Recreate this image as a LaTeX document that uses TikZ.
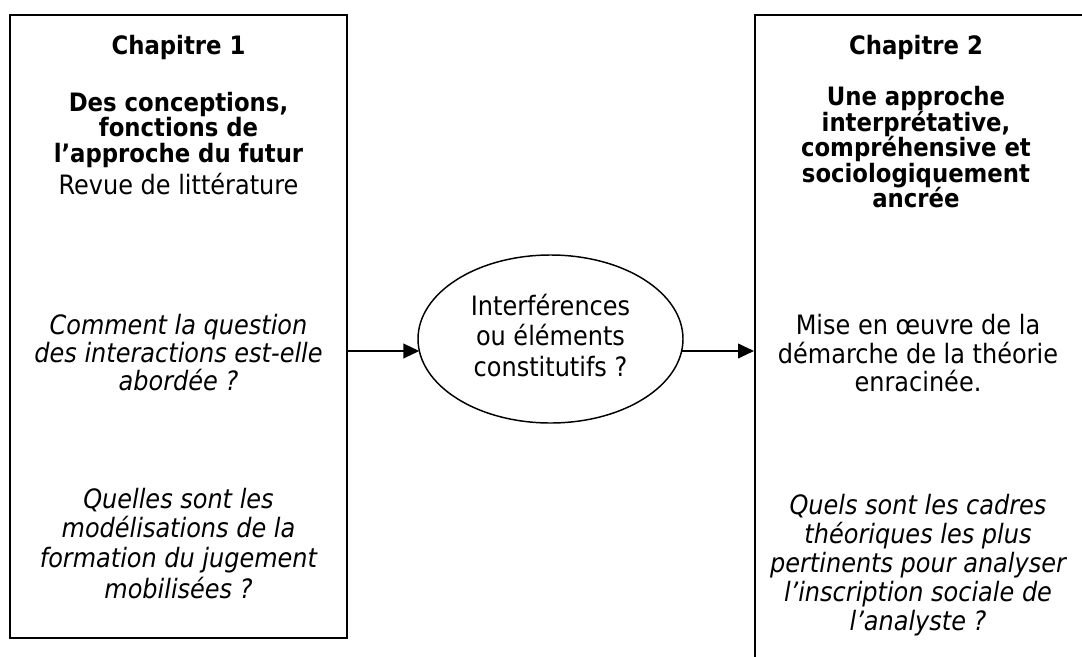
\documentclass[tikz,border=0pt]{standalone}
\usepackage{fontspec}
\setmainfont{DejaVu Sans Condensed}
\usetikzlibrary{arrows.meta,shapes.geometric,intersections}
\begin{document}
\begin{tikzpicture}[x=0.75pt,y=-0.75pt,
  chapbox/.style={draw,line width=1.5pt,rectangle,inner sep=0pt},
  bubble/.style={draw,line width=1.1pt,ellipse,inner sep=0pt,minimum width=265*0.75pt,minimum height=168*0.75pt},
  ln/.style={anchor=base,inner sep=0pt,font=\fontsize{20}{24}\selectfont},
  bl/.style={ln,font=\fontsize{19}{23}\selectfont\bfseries},
  il/.style={ln,font=\fontsize{20}{24}\selectfont\itshape},
  arr/.style={line width=1.4pt,-{Triangle[length=12pt,width=11pt]}}]
\useasboundingbox (0,0) rectangle (1082,657);
\clip (0,0) rectangle (1082,657);
% boxes
\node[chapbox,minimum width=337*0.75pt,minimum height=623*0.75pt] (b1) at (178.5,326.5) {};
\node[chapbox,minimum width=337*0.75pt,minimum height=690*0.75pt] (b2) at (923.5,360) {};
\node[bubble,name path=ellp] (ell) at (550.5,339) {};
% left texts
\node[bl] (l1) at (178.5,54) {Chapitre 1};
\node[bl] (l2) at (178.5,111) {Des conceptions,};
\node[bl] (l3) at (178.5,136) {fonctions de};
\node[bl] (l4) at (178.5,162) {l’approche du futur};
\node[ln] (l5) at (178.5,194) {Revue de littérature};
\node[il] (l6) at (178.5,334) {Comment la question};
\node[il] (l7) at (178.5,362) {des interactions est-elle};
\node[il] (l8) at (178.5,390) {abordée ?};
\node[il] (l9) at (178.5,508) {Quelles sont les};
\node[il] (l10) at (178.5,537) {modélisations de la};
\node[il] (l11) at (178.5,567) {formation du jugement};
\node[il] (l12) at (178.5,598) {mobilisées ?};
% ellipse text
\node[ln] (e1) at (550.5,315) {Interférences};
\node[ln] (e2) at (550.5,345) {ou éléments};
\node[ln] (e3) at (550.5,376) {constitutifs ?};
% right texts
\node[bl] (r1) at (916,54) {Chapitre 2};
\node[bl] (r2) at (916,105) {Une approche};
\node[bl] (r3) at (916,131) {interprétative,};
\node[bl] (r4) at (916,156) {compréhensive et};
\node[bl] (r5) at (916,182) {sociologiquement};
\node[bl] (r6) at (916,207) {ancrée};
\node[ln] (r7) at (918,334) {Mise en œuvre de la};
\node[ln] (r8) at (918,363) {démarche de la théorie};
\node[ln] (r9) at (918,391) {enracinée.};
\node[il] (r10) at (918,514) {Quels sont les cadres};
\node[il] (r11) at (918,543) {théoriques les plus};
\node[il] (r12) at (918,572) {pertinents pour analyser};
\node[il] (r13) at (918,601) {l’inscription sociale de};
\node[il] (r14) at (918,630) {l’analyste ?};
% connectors
\coordinate (ya) at (0,351);
\path[name path=hline] (b1.east |- ya) -- (b2.west |- ya);
\path[name intersections={of=ellp and hline,name=ix,sort by=hline}];
\draw[arr] (b1.east |- ya) -- (ix-1);
\draw[arr] (ix-2) -- (b2.west |- ya);
\end{tikzpicture}
\end{document}
